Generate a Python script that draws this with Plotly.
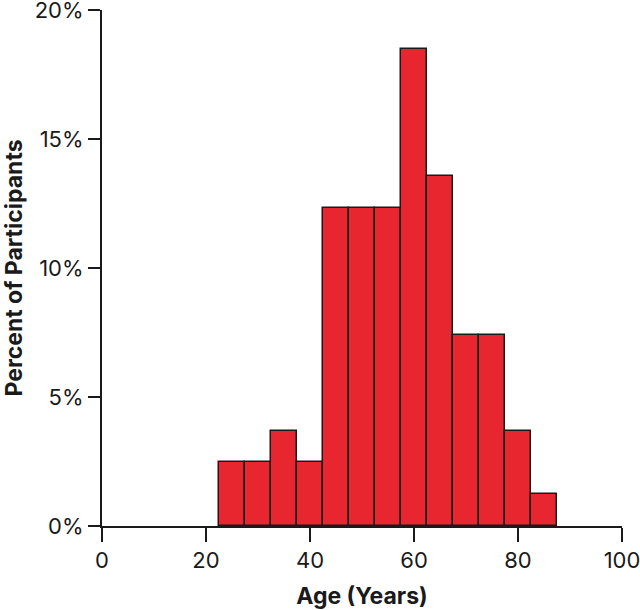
import plotly.graph_objects as go

# bin centres (years) and share of participants (%) per 5-year bin
age_bins = [25, 30, 35, 40, 45, 50, 55, 60, 65, 70, 75, 80, 85]
percent = [2.47, 2.47, 3.70, 2.47, 12.33, 12.33, 12.33, 18.5, 13.55, 7.4, 7.4, 3.7, 1.23]

x_ticks = [0, 20, 40, 60, 80, 100]
y_ticks = [0, 5, 10, 15, 20]
y_labels = ["0%", "5%", "10%", "15%", "20%"]

FONT = "Inter, Roboto, sans-serif"
INK = "#1a1a1a"

fig = go.Figure()
fig.add_trace(
    go.Bar(
        x=age_bins,
        y=percent,
        width=5,
        marker=dict(color="#E8262F", line=dict(color=INK, width=1.5)),
        showlegend=False,
    )
)

fig.update_layout(
    width=640,
    height=610,
    margin=dict(l=102, r=18, t=10, b=84),
    paper_bgcolor="white",
    plot_bgcolor="white",
    font=dict(family=FONT, size=22, color=INK),
    bargap=0,
)
axis_style = dict(
    ticks="outside",
    tickwidth=2,
    tickcolor=INK,
    showline=True,
    linecolor=INK,
    linewidth=2,
    showgrid=False,
    zeroline=False,
    automargin=False,
    ticklabeloverflow="allow",
)
fig.update_xaxes(
    range=[0, 100],
    tickvals=x_ticks,
    ticklen=14,
    tickfont=dict(size=22),
    title=dict(text="<b>Age (Years)</b>", font=dict(size=23), standoff=16),
    **axis_style,
)
fig.update_yaxes(
    range=[0, 20],
    tickvals=y_ticks,
    ticktext=y_labels,
    ticklen=12,
    tickfont=dict(size=22),
    title=dict(text="<b>Percent of Participants</b>", font=dict(size=23), standoff=8),
    **axis_style,
)

# the page body has a default 8px margin; drop it so the figure sits at 0,0
fig.write_html(
    "out.html",
    config={"displayModeBar": False},
    post_script="document.body.style.margin='0';",
)
